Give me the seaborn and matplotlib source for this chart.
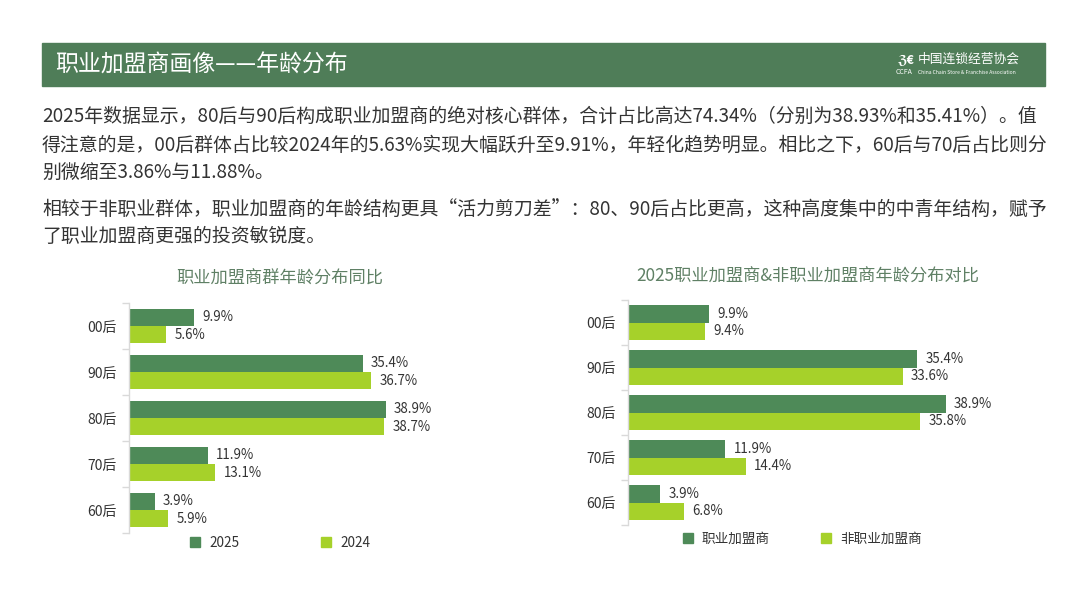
import numpy as np
import pandas as pd
import seaborn as sns
import matplotlib.pyplot as plt
from matplotlib.patches import Rectangle
from matplotlib.lines import Line2D

# ---- data ----
ages = ['00后', '90后', '80后', '70后', '60后']
share_2025 = [9.9, 35.4, 38.9, 11.9, 3.9]
share_2024 = [5.6, 36.7, 38.7, 13.1, 5.9]
share_pro = [9.9, 35.4, 38.9, 11.9, 3.9]
share_nonpro = [9.4, 33.6, 35.8, 14.4, 6.8]

left_series = ['2025', '2024']
right_series = ['职业加盟商', '非职业加盟商']

header_title = '职业加盟商画像——年龄分布'
left_title = '职业加盟商群年龄分布同比'
right_title = '2025职业加盟商&非职业加盟商年龄分布对比'
body_lines = [
    '2025年数据显示，80后与90后构成职业加盟商的绝对核心群体，合计占比高达74.34%（分别为38.93%和35.41%）。值',
    '得注意的是，00后群体占比较2024年的5.63%实现大幅跃升至9.91%，年轻化趋势明显。相比之下，60后与70后占比则分',
    '别微缩至3.86%与11.88%。',
    '相较于非职业群体，职业加盟商的年龄结构更具“活力剪刀差”：80、90后占比更高，这种高度集中的中青年结构，赋予',
    '了职业加盟商更强的投资敏锐度。',
]
body_y = [116, 145, 172, 209, 237]

DARK = '#4E8A58'
LIGHT = '#A6D12A'
HEADER = '#4F7D58'
TEXT = '#333333'
TITLE_C = '#5F8065'

sns.set_theme(style='white')
plt.rcParams['font.family'] = ['Noto Sans CJK SC', 'DejaVu Sans']

W, H = 1080, 608
fig = plt.figure(figsize=(W / 100, H / 100), dpi=100)
fig.patch.set_facecolor('white')


def fx(px):
    return px / W


def fy(py):
    return 1 - py / H


# header bar
fig.patches.append(Rectangle((fx(42), fy(86)), fx(1045) - fx(42), fy(43) - fy(86),
                             transform=fig.transFigure, color=HEADER, zorder=0))
fig.text(fx(55), fy(65), header_title, color='white', fontsize=16.5, va='center', ha='left')
# logo
fig.text(fx(897), fy(60), 'ℨ€', color='white', fontsize=9, va='center', ha='left',
         fontweight='bold')
fig.text(fx(918), fy(59), '中国连锁经营协会', color='white', fontsize=9.2, va='center', ha='left')
fig.text(fx(896), fy(72), 'CCFA', color='white', fontsize=5, va='center', ha='left')
fig.text(fx(918), fy(72), 'China Chain Store & Franchise Association', color='white',
         fontsize=3.6, va='center', ha='left')

for line, y in zip(body_lines, body_y):
    fig.text(fx(42), fy(y), line, color=TEXT, fontsize=13.6, va='center', ha='left')


def draw_panel(rect, values_a, values_b, series, title, title_xy, legend_xy, colspace):
    ax = fig.add_axes(rect)
    df = pd.DataFrame({
        'age': ages * 2,
        'value': list(values_a) + list(values_b),
        'series': [series[0]] * len(ages) + [series[1]] * len(ages),
    })
    sns.barplot(data=df, x='value', y='age', hue='series', orient='h',
                palette=[DARK, LIGHT], width=0.76, gap=0, saturation=1,
                errorbar=None, ax=ax, legend=False, linewidth=0)
    for cont in ax.containers:
        ax.bar_label(cont, fmt='%.1f%%', padding=6, fontsize=9.6, color=TEXT)
    ax.set_xlim(0, 45)
    ax.set_ylim(len(ages) - 0.5, -0.5)
    ax.set_xlabel('')
    ax.set_ylabel('')
    ax.set_xticks([])
    for s in ['top', 'right', 'bottom']:
        ax.spines[s].set_visible(False)
    ax.spines['left'].set_color('#d9d9d9')
    ax.spines['left'].set_linewidth(1)
    ax.set_yticks(np.arange(-0.5, len(ages), 1), minor=True)
    ax.tick_params(axis='y', which='minor', length=5, color='#d9d9d9', width=1, left=True)
    ax.tick_params(axis='y', which='major', length=0, pad=9, labelsize=10, labelcolor=TEXT)
    ax.set_facecolor('none')

    fig.text(fx(title_xy[0]), fy(title_xy[1]), title, color=TITLE_C, fontsize=12.4,
             ha='center', va='center')
    handles = [Line2D([], [], marker='s', linestyle='none', markersize=7, color=c)
               for c in [DARK, LIGHT]]
    ax.legend(handles, series, loc='center', ncol=2, frameon=False,
              bbox_to_anchor=(fx(legend_xy[0]), fy(legend_xy[1])),
              bbox_transform=fig.transFigure, fontsize=9.8, handlelength=0.8,
              handletextpad=0.6, columnspacing=colspace, labelcolor=TEXT)
    return ax


draw_panel([fx(129), fy(533), 45 * 6.6 / W, 230 / H], share_2025, share_2024,
           left_series, left_title, (280, 279), (280, 543), 6.0)
draw_panel([fx(628), fy(525), 45 * 8.17 / W, 225 / H], share_pro, share_nonpro,
           right_series, right_title, (808, 277), (802, 539), 3.8)

fig.savefig('out.png', dpi=100, facecolor='white')
